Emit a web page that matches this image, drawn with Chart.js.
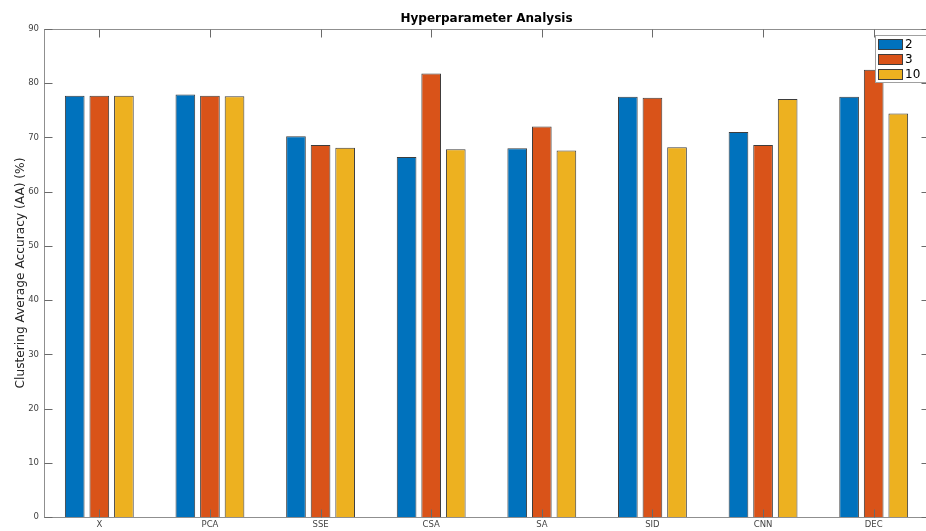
<!DOCTYPE html>
<html>
<head>
<meta charset="utf-8">
<title>Hyperparameter Analysis</title>
<script src="https://cdn.jsdelivr.net/npm/chart.js@4/dist/chart.umd.min.js"></script>
<style>
  html, body { margin: 0; padding: 0; overflow: hidden; background: #fff; }
  #wrap { position: relative; width: 940px; height: 531px; }
</style>
</head>
<body>
<div id="wrap"><canvas id="chart" width="940" height="531"></canvas></div>
<script>
// Feature extractors on the x axis
const categories = ['X', 'PCA', 'SSE', 'CSA', 'SA', 'SID', 'CNN', 'DEC'];

// Clustering average accuracy (%) per number of clusters
const clusters2  = [77.7, 77.9, 70.2, 66.4, 68.0, 77.5, 71.0, 77.5];
const clusters3  = [77.7, 77.7, 68.6, 81.8, 72.0, 77.3, 68.6, 82.5];
const clusters10 = [77.7, 77.6, 68.1, 67.8, 67.6, 68.2, 77.1, 74.4];

const seriesLabels = ['2', '3', '10'];
const seriesColors = ['#0072BD', '#D95319', '#EDB120'];

const titleText = 'Hyperparameter Analysis';
const yAxisTitle = 'Clustering Average Accuracy (AA) (%)';

const FONT = '"DejaVu Sans", sans-serif';

// Box around the axes with inward tick marks on all four sides
const axesFrame = {
  id: 'axesFrame',
  afterDatasetsDraw(chart) {
    const { ctx, chartArea: a, scales } = chart;
    const L = Math.round(a.left) + 0.5, R = Math.round(a.right) + 0.5;
    const T = Math.round(a.top) + 0.5, B = Math.round(a.bottom) + 0.5;
    const len = 8;
    ctx.save();
    ctx.lineWidth = 1;
    ctx.strokeStyle = '#8f8f8f';
    ctx.strokeRect(L, T, R - L, B - T);
    ctx.strokeStyle = '#6a6a6a';
    ctx.beginPath();
    scales.y.ticks.forEach(t => {
      const y = Math.round(scales.y.getPixelForValue(t.value)) + 0.5;
      ctx.moveTo(L, y); ctx.lineTo(L + len, y);
      ctx.moveTo(R, y); ctx.lineTo(R - len, y);
    });
    categories.forEach((c, i) => {
      const x = Math.round(scales.x.getPixelForValue(i)) + 0.5;
      ctx.moveTo(x, T); ctx.lineTo(x, T + len);
      ctx.moveTo(x, B); ctx.lineTo(x, B - len);
    });
    ctx.stroke();
    ctx.restore();
  }
};

// Title, y-axis label and the boxed legend in the upper right
const annotations = {
  id: 'annotations',
  afterDraw(chart) {
    const { ctx, chartArea: a } = chart;
    ctx.save();
    ctx.fillStyle = '#000';
    ctx.font = 'bold 12px ' + FONT;
    ctx.textAlign = 'center';
    ctx.textBaseline = 'middle';
    ctx.fillText(titleText, (a.left + a.right) / 2, 18.5);

    ctx.fillStyle = '#262626';
    ctx.font = '12.2px ' + FONT;
    ctx.translate(21, (a.top + a.bottom) / 2);
    ctx.rotate(-Math.PI / 2);
    ctx.fillText(yAxisTitle, 0, 0);
    ctx.restore();

    // legend
    ctx.save();
    const bx = 875.5, by = 35.5, bw = 60, bh = 47;
    ctx.fillStyle = '#fff';
    ctx.fillRect(bx, by, bw, bh);
    ctx.strokeStyle = '#a0a0a0';
    ctx.lineWidth = 1;
    ctx.strokeRect(bx, by, bw, bh);
    ctx.font = '12px ' + FONT;
    ctx.textAlign = 'left';
    ctx.textBaseline = 'middle';
    chart.data.datasets.forEach((ds, i) => {
      const y = 39 + i * 15;
      ctx.fillStyle = ds.backgroundColor;
      ctx.fillRect(878, y, 25, 11);
      ctx.strokeStyle = '#3d3d3d';
      ctx.strokeRect(878.5, y + 0.5, 24, 10);
      ctx.fillStyle = '#000';
      ctx.fillText(ds.label, 905, y + 6);
    });
    ctx.restore();
  }
};

const seriesValues = [clusters2, clusters3, clusters10];

new Chart(document.getElementById('chart'), {
  type: 'bar',
  data: {
    labels: categories,
    datasets: seriesValues.map((vals, i) => ({
      label: seriesLabels[i],
      data: vals,
      backgroundColor: seriesColors[i],
      borderColor: '#3d3d3d',
      borderWidth: 1,
      categoryPercentage: 0.6667,
      barPercentage: 0.8
    }))
  },
  options: {
    responsive: false,
    animation: false,
    devicePixelRatio: 1,
    layout: { padding: { top: 29, right: 11, left: 0, bottom: 0 } },
    plugins: {
      legend: { display: false },
      title: { display: false },
      tooltip: { enabled: false }
    },
    scales: {
      x: {
        type: 'category',
        grid: { display: false, drawTicks: false },
        border: { display: false },
        ticks: {
          color: '#444',
          font: { family: FONT, size: 8.5 },
          padding: 3,
          maxRotation: 0,
          autoSkip: false
        },
        afterFit(s) { s.height = 14; }
      },
      y: {
        min: 0,
        max: 90,
        grid: { display: false, drawTicks: false },
        border: { display: false },
        ticks: {
          stepSize: 10,
          color: '#444',
          font: { family: FONT, size: 8.5 },
          padding: 5
        },
        afterFit(s) { s.width = 44; }
      }
    }
  },
  plugins: [axesFrame, annotations]
});
</script>
</body>
</html>
